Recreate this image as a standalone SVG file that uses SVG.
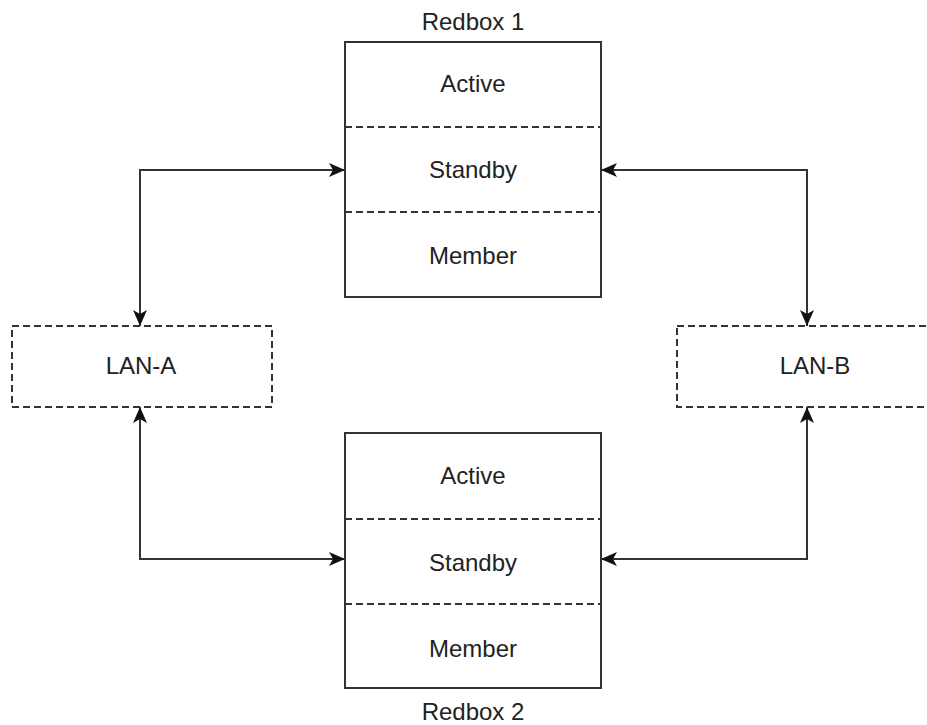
<svg xmlns="http://www.w3.org/2000/svg" width="927" height="725" viewBox="0 0 927 725">
<style>
.box{fill:#fff;stroke:#333;stroke-width:2}
.dbox{fill:#fff;stroke:#333;stroke-width:2;stroke-dasharray:7,4}
.dl{stroke:#333;stroke-width:2;stroke-dasharray:7,4;fill:none}
.t{font-family:"Liberation Sans",Arial,sans-serif;font-size:24px;fill:#222;text-anchor:middle}
.c{fill:none;stroke:#333;stroke-width:2}
</style>
<defs>
<marker id="ah" viewBox="0 0 16 14" refX="16" refY="7" markerWidth="16" markerHeight="14" markerUnits="userSpaceOnUse" orient="auto-start-reverse">
<path d="M0,0 L16,7 L0,14 L4,7 Z" fill="#111"/>
</marker>
</defs>
<rect width="927" height="725" fill="#fff"/>
<g id="connectors">
<path class="c" d="M140,326 V170 H345" marker-start="url(#ah)" marker-end="url(#ah)"/>
<path class="c" d="M807,326 V170 H601" marker-start="url(#ah)" marker-end="url(#ah)"/>
<path class="c" d="M140,407 V559 H345" marker-start="url(#ah)" marker-end="url(#ah)"/>
<path class="c" d="M807,407 V559 H601" marker-start="url(#ah)" marker-end="url(#ah)"/>
</g>
<g id="redbox1">
<text class="t" x="473" y="30">Redbox 1</text>
<rect class="box" x="345" y="42" width="256" height="255"/>
<line class="dl" x1="345" y1="127" x2="601" y2="127"/>
<line class="dl" x1="345" y1="212" x2="601" y2="212"/>
<text class="t" x="473" y="92">Active</text>
<text class="t" x="473" y="178">Standby</text>
<text class="t" x="473" y="264">Member</text>
</g>
<g id="redbox2">
<rect class="box" x="345" y="433" width="256" height="255"/>
<line class="dl" x1="345" y1="519" x2="601" y2="519"/>
<line class="dl" x1="345" y1="604" x2="601" y2="604"/>
<text class="t" x="473" y="484">Active</text>
<text class="t" x="473" y="571">Standby</text>
<text class="t" x="473" y="657">Member</text>
<text class="t" x="473" y="720">Redbox 2</text>
</g>
<g id="lan-a">
<rect class="dbox" x="12" y="326" width="260" height="81"/>
<text class="t" x="141" y="374">LAN-A</text>
</g>
<g id="lan-b">
<rect class="dbox" x="677" y="326" width="270" height="81"/>
<text class="t" x="815" y="374">LAN-B</text>
</g>
</svg>
